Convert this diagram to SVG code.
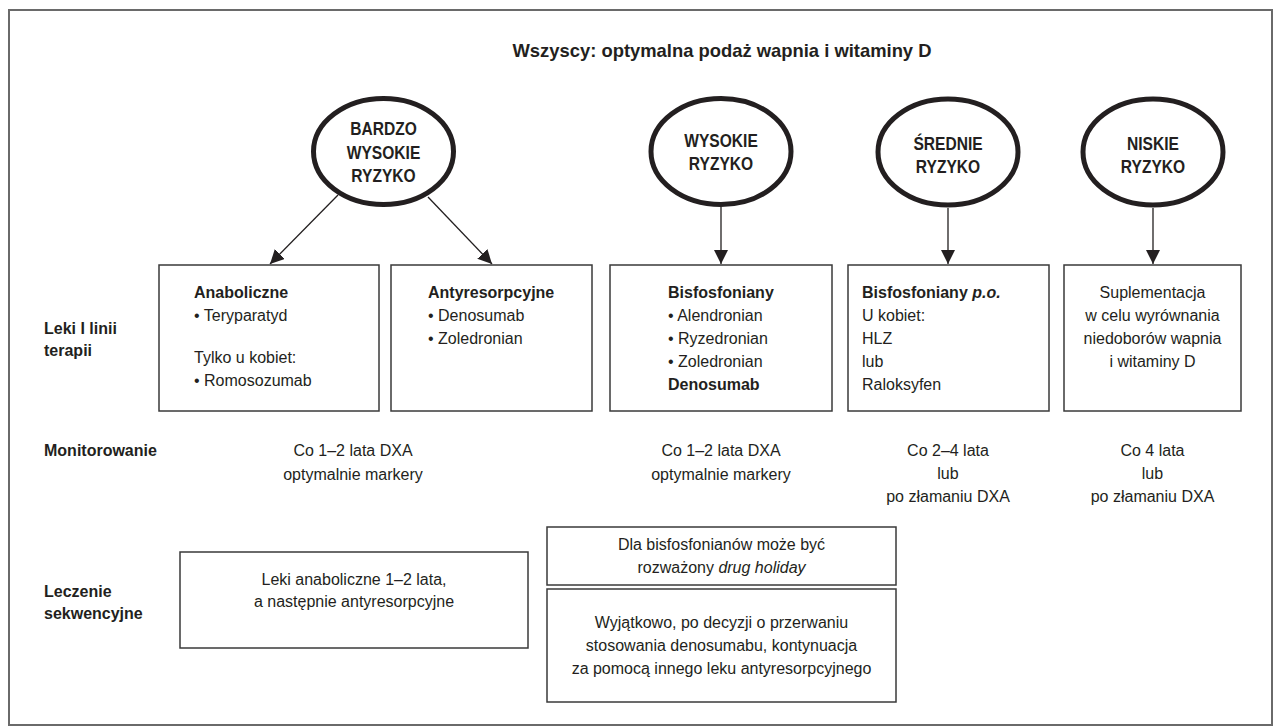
<svg xmlns="http://www.w3.org/2000/svg" width="1274" height="727" viewBox="0 0 1274 727">
<style>
text{font-family:"Liberation Sans",Arial,sans-serif;font-size:16px;fill:#231f20}
.b{font-weight:bold}
.c{text-anchor:middle}
.t{font-size:18.4px;font-weight:bold}
.e{font-size:19px;font-weight:bold;text-anchor:middle}
.ov{fill:#fff;stroke:#231f20;stroke-width:5}
.bx{fill:#fff;stroke:#3a3a3a;stroke-width:1.5}
.cn{stroke:#231f20;stroke-width:1.3;fill:none}
.fr{fill:none;stroke:#6a6a6a;stroke-width:2}
</style>
<defs>
<marker id="ah" markerUnits="userSpaceOnUse" markerWidth="14" markerHeight="14" viewBox="0 0 14 14" refX="14" refY="7" orient="auto">
<path d="M0,0 L14,7 L0,14 z" fill="#231f20"/>
</marker>
</defs>
<rect class="fr" x="9" y="10" width="1263" height="715"/>
<text class="t c" x="722" y="57">Wszyscy: optymalna podaż wapnia i witaminy D</text>

<g id="labels">
<text class="b" x="44" y="334">Leki I linii</text>
<text class="b" x="44" y="356">terapii</text>
<text class="b" x="44" y="456">Monitorowanie</text>
<text class="b" x="44" y="597">Leczenie</text>
<text class="b" x="44" y="619">sekwencyjne</text>
</g>

<g id="connectors">
<line class="cn" x1="338" y1="195" x2="270" y2="264" marker-end="url(#ah)"/>
<line class="cn" x1="428" y1="197" x2="492" y2="264" marker-end="url(#ah)"/>
<line class="cn" x1="721" y1="207" x2="721" y2="264" marker-end="url(#ah)"/>
<line class="cn" x1="948" y1="208" x2="948" y2="264" marker-end="url(#ah)"/>
<line class="cn" x1="1153" y1="208" x2="1153" y2="264" marker-end="url(#ah)"/>
</g>

<g id="risk-very-high">
<ellipse class="ov" cx="383.5" cy="151.5" rx="70" ry="53"/>
<text class="e" transform="translate(383.5,135) scale(0.82,1)">BARDZO</text>
<text class="e" transform="translate(383.5,158.5) scale(0.82,1)">WYSOKIE</text>
<text class="e" transform="translate(383.5,182) scale(0.82,1)">RYZYKO</text>
</g>
<g id="risk-high">
<ellipse class="ov" cx="721" cy="151.5" rx="70" ry="53"/>
<text class="e" transform="translate(721,147) scale(0.82,1)">WYSOKIE</text>
<text class="e" transform="translate(721,170) scale(0.82,1)">RYZYKO</text>
</g>
<g id="risk-medium">
<ellipse class="ov" cx="948" cy="152" rx="70" ry="53"/>
<text class="e" transform="translate(948,150) scale(0.82,1)">ŚREDNIE</text>
<text class="e" transform="translate(948,173) scale(0.82,1)">RYZYKO</text>
</g>
<g id="risk-low">
<ellipse class="ov" cx="1153" cy="152" rx="70" ry="53"/>
<text class="e" transform="translate(1153,150) scale(0.82,1)">NISKIE</text>
<text class="e" transform="translate(1153,173) scale(0.82,1)">RYZYKO</text>
</g>

<g id="box-anabolic">
<rect class="bx" x="159" y="265" width="220" height="146"/>
<text class="b" x="194" y="298">Anaboliczne</text>
<text x="194" y="321">• Teryparatyd</text>
<text x="194" y="363">Tylko u kobiet:</text>
<text x="194" y="386">• Romosozumab</text>
</g>
<g id="box-antiresorptive">
<rect class="bx" x="391" y="265" width="201" height="146"/>
<text class="b" x="428" y="298">Antyresorpcyjne</text>
<text x="428" y="321">• Denosumab</text>
<text x="428" y="344">• Zoledronian</text>
</g>
<g id="box-bisphosphonates">
<rect class="bx" x="610" y="265" width="222" height="146"/>
<text class="b" x="668" y="298">Bisfosfoniany</text>
<text x="668" y="321">• Alendronian</text>
<text x="668" y="344">• Ryzedronian</text>
<text x="668" y="367">• Zoledronian</text>
<text class="b" x="668" y="390">Denosumab</text>
</g>
<g id="box-po">
<rect class="bx" x="848" y="265" width="201" height="146"/>
<text class="b" x="862" y="298">Bisfosfoniany <tspan font-style="italic">p.o.</tspan></text>
<text x="862" y="321">U kobiet:</text>
<text x="862" y="344">HLZ</text>
<text x="862" y="367">lub</text>
<text x="862" y="390">Raloksyfen</text>
</g>
<g id="box-supplement">
<rect class="bx" x="1064" y="265" width="177" height="146"/>
<text class="c" x="1152.5" y="298">Suplementacja</text>
<text class="c" x="1152.5" y="321">w celu wyrównania</text>
<text class="c" x="1152.5" y="344">niedoborów wapnia</text>
<text class="c" x="1152.5" y="367">i witaminy D</text>
</g>

<g id="monitoring">
<text class="c" x="353" y="456">Co 1–2 lata DXA</text>
<text class="c" x="353" y="480">optymalnie markery</text>
<text class="c" x="721" y="456">Co 1–2 lata DXA</text>
<text class="c" x="721" y="480">optymalnie markery</text>
<text class="c" x="948" y="456">Co 2–4 lata</text>
<text class="c" x="948" y="479">lub</text>
<text class="c" x="948" y="502">po złamaniu DXA</text>
<text class="c" x="1152.5" y="456">Co 4 lata</text>
<text class="c" x="1152.5" y="479">lub</text>
<text class="c" x="1152.5" y="502">po złamaniu DXA</text>
</g>

<g id="seq-anabolic">
<rect class="bx" x="180" y="552" width="348" height="96"/>
<text class="c" x="354" y="585">Leki anaboliczne 1–2 lata,</text>
<text class="c" x="354" y="607">a następnie antyresorpcyjne</text>
</g>
<g id="seq-holiday">
<rect class="bx" x="547" y="527" width="349" height="58"/>
<text class="c" x="721.5" y="550">Dla bisfosfonianów może być</text>
<text class="c" x="721.5" y="573">rozważony <tspan font-style="italic">drug holiday</tspan></text>
</g>
<g id="seq-denosumab">
<rect class="bx" x="547" y="589" width="349" height="113"/>
<text class="c" x="721.5" y="628">Wyjątkowo, po decyzji o przerwaniu</text>
<text class="c" x="721.5" y="651">stosowania denosumabu, kontynuacja</text>
<text class="c" x="721.5" y="674">za pomocą innego leku antyresorpcyjnego</text>
</g>
</svg>
